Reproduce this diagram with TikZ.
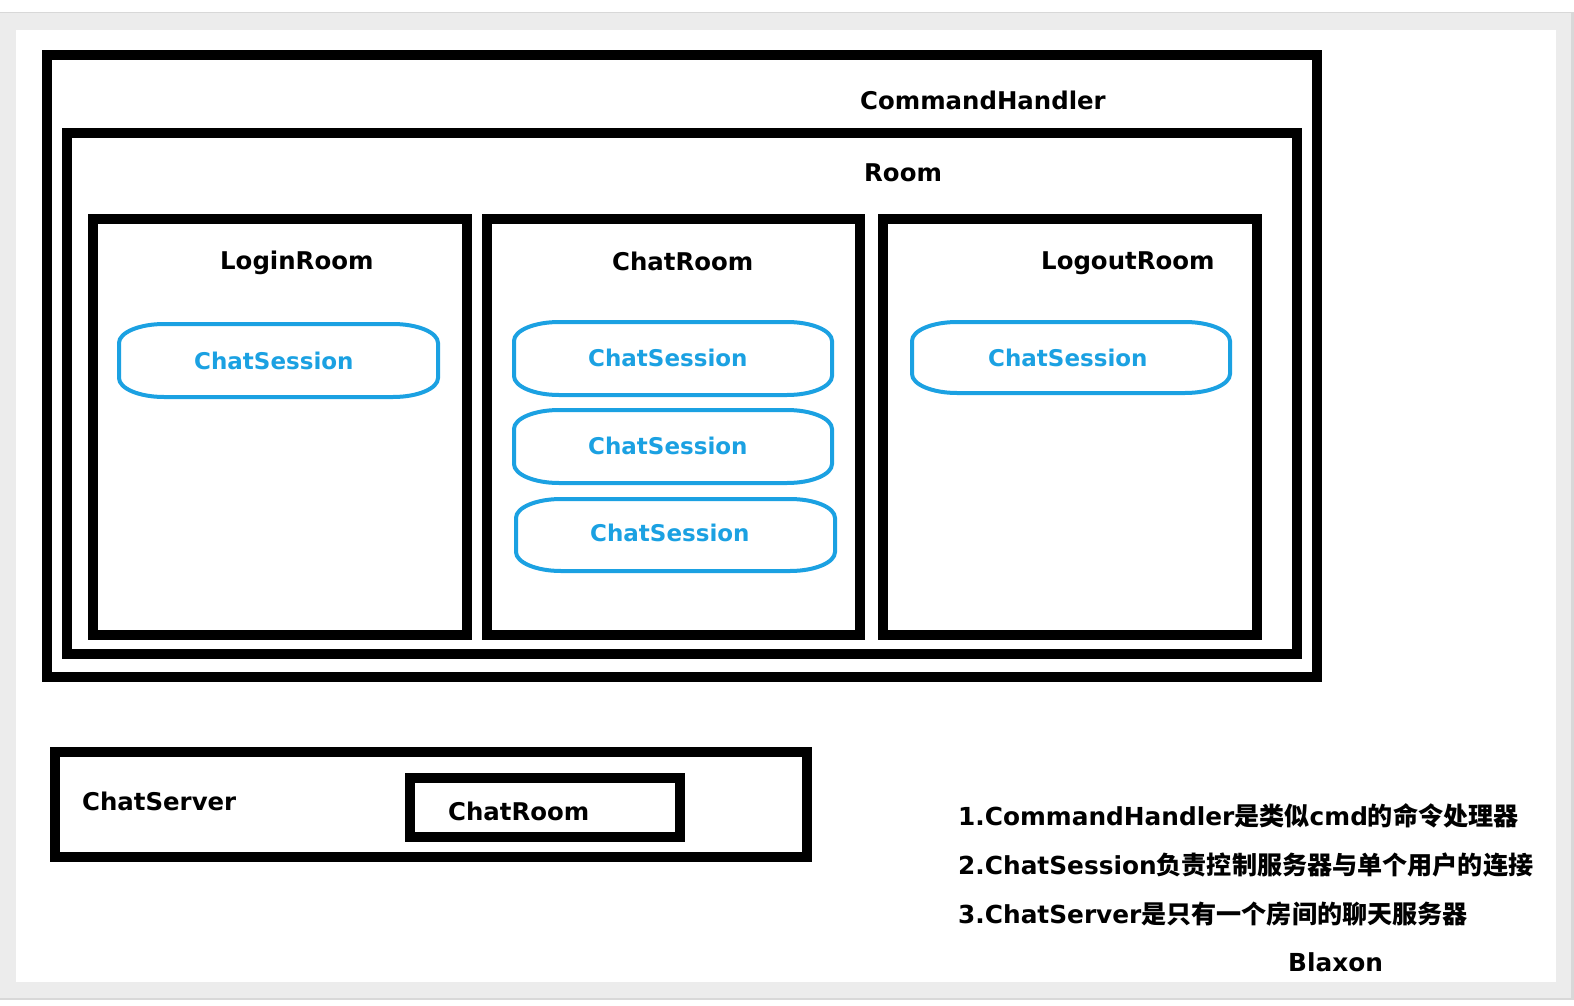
\documentclass[tikz,border=0pt]{standalone}
\usepackage{fontspec}
\setmainfont{DejaVu Sans}
\newfontfamily\cjk{Noto Sans CJK SC}
\definecolor{sess}{RGB}{27,161,226}
\definecolor{frameA}{RGB}{216,216,216}
\definecolor{frameB}{RGB}{236,236,236}
\newcommand\sessshape[4]{%
  \draw[sessline] (#1+45,#2) -- (#3-45,#2)
    arc[start angle=90,end angle=0,x radius=45pt,y radius=19pt] -- (#3,#4-19)
    arc[start angle=0,end angle=-90,x radius=45pt,y radius=19pt] -- (#1+45,#4)
    arc[start angle=270,end angle=180,x radius=45pt,y radius=19pt] -- (#1,#2+19)
    arc[start angle=180,end angle=90,x radius=45pt,y radius=19pt] -- cycle;}
\tikzset{
  blk/.style={draw=black, line width=10pt, line join=miter},
  sessline/.style={draw=sess, line width=4pt},
  lbl/.style={font=\bfseries\fontsize{24.4}{28}\selectfont, text=black, inner sep=0pt, anchor=base west},
  slbl/.style={font=\bfseries\fontsize{23}{26}\selectfont, text=sess, inner sep=0pt, anchor=base west},
  note/.style={font=\bfseries\fontsize{24.8}{28}\selectfont, text=black, inner sep=0pt, anchor=base west},
}
\newcommand\zh[1]{{\cjk\bfseries\fontsize{25.1}{28}\selectfont #1}}
\begin{document}
\begin{tikzpicture}[x=1pt,y=-1pt]
\useasboundingbox (0,0) rectangle (1574,1006);
\fill[white] (0,0) rectangle (1574,1006);
\fill[frameA] (0,12) rectangle (1574,1000);
\fill[frameB] (0,13) rectangle (1571,998);
\fill[white] (16,30) rectangle (1556,982);

% containers
\draw[blk] (47,55) rectangle (1317,677);
\draw[blk] (67,133) rectangle (1297,654);
\draw[blk] (93,219) rectangle (467,635);
\draw[blk] (487,219) rectangle (860,635);
\draw[blk] (883,219) rectangle (1257,635);
\draw[blk] (55,752) rectangle (807,857);
\draw[blk] (410,778) rectangle (680,837);

% labels
\node[lbl] (cmdh) at (860,110) {CommandHandler};
\node[lbl] (room) at (864,182) {Room};
\node[lbl] (login) at (220,269) {LoginRoom};
\node[lbl] (chatroom) at (612,270) {ChatRoom};
\node[lbl] (logout) at (1041,269) {LogoutRoom};
\node[lbl] (server) at (82,810) {ChatServer};
\node[lbl] (srvroom) at (448,820) {ChatRoom};

% sessions
\sessshape{119}{324}{438}{397}
\sessshape{514}{322}{832}{395}
\sessshape{514}{410}{832}{483}
\sessshape{516}{499}{835}{571}
\sessshape{912}{322}{1230}{393}
\node[slbl] (s1) at (194,369) {ChatSession};
\node[slbl] (s2) at (588,366) {ChatSession};
\node[slbl] (s3) at (588,454) {ChatSession};
\node[slbl] (s4) at (590,541) {ChatSession};
\node[slbl] (s5) at (988,366) {ChatSession};

% notes
\node[note] (n1) at (958,825) {1.CommandHandler\zh{是类似}cmd\zh{的命令处理器}};
\node[note] (n2) at (958,874) {2.ChatSession\zh{负责控制服务器与单个用户的连接}};
\node[note] (n3) at (958,923) {3.ChatServer\zh{是只有一个房间的聊天服务器}};
\node[note] (author) at (1288,971) {Blaxon};
\end{tikzpicture}
\end{document}
